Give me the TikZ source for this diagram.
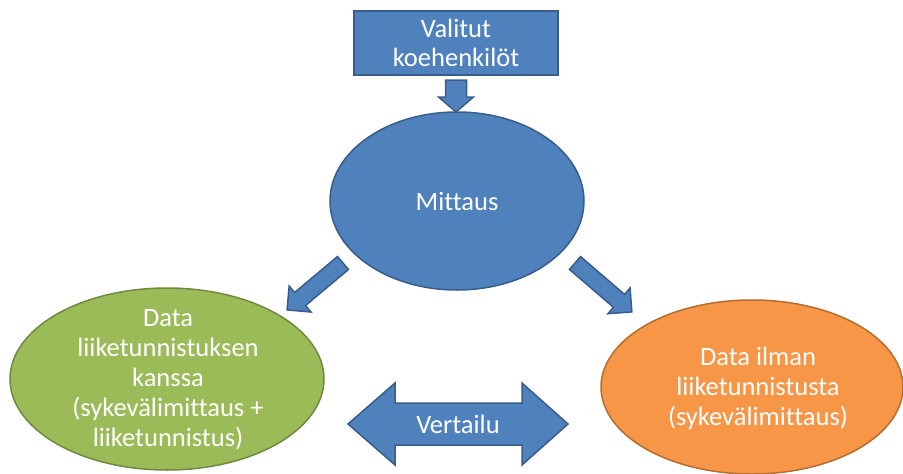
\documentclass[tikz,border=0pt]{standalone}
\usepackage{fontspec}
\setmainfont[Ligatures=NoCommon]{Carlito}
\usetikzlibrary{shapes.geometric}
\definecolor{bfill}{HTML}{4F81BD}
\definecolor{bline}{HTML}{385D8A}
\definecolor{gfill}{HTML}{9BBB59}
\definecolor{gline}{HTML}{71893F}
\definecolor{ofill}{HTML}{F79646}
\definecolor{oline}{HTML}{B66D31}
\newcommand\blockarrow[6]{%
  \draw[blk,shift={(#1)},rotate=#2]
    (0,{-#4/2}) -- ({#3-#6},{-#4/2}) -- ({#3-#6},{-#5/2}) -- (#3,0)
    -- ({#3-#6},{#5/2}) -- ({#3-#6},{#4/2}) -- (0,{#4/2}) -- cycle;}
\begin{document}
\begin{tikzpicture}[x=1pt,y=-1pt,
  lbl/.style={text=white,font=\fontsize{26.5}{30}\selectfont,align=center,inner sep=0pt},
  blk/.style={fill=bfill,draw=bline,line width=1.5pt,line join=miter},
  oval/.style={ellipse,inner sep=0pt,outer sep=0pt,line width=1.5pt}]
\useasboundingbox (0,0) rectangle (903,474);
% top box
\node[blk,rectangle,minimum width=204pt,minimum height=64pt,lbl] (sel) at (456,43) {Valitut\\[-1pt]koehenkilöt};
% ellipses
\node[oval,fill=bfill,draw=bline,minimum width=254pt,minimum height=178pt] (mit) at (457,201) {};
\node[lbl] (mitt) at (mit.center) {Mittaus};
\node[oval,fill=gfill,draw=gline,minimum width=314pt,minimum height=182pt] (with) at (167,379) {};
\node[lbl] (witht) at (168,380) {Data\\liiketunnistuksen\\kanssa\\(sykevälimittaus +\\liiketunnistus)};
\node[oval,fill=ofill,draw=oline,minimum width=302pt,minimum height=174pt] (wout) at (752,387) {};
\node[lbl] (woutt) at (758,388) {Data ilman\\liiketunnistusta\\(sykevälimittaus)};
% arrows
\coordinate (a1) at (456,80);
\blockarrow{a1}{-90}{32}{21}{35}{15}
\coordinate (a2) at (343,263);
\blockarrow{a2}{-140}{73}{17}{34}{17}
\coordinate (a3) at (575,263);
\blockarrow{a3}{-40.7}{75}{17}{34}{17}
% double arrow
\draw[blk] (348,424) -- (395,383) -- (395,403) -- (522,403) -- (522,383) -- (568,424)
  -- (522,465) -- (522,445) -- (395,445) -- (395,465) -- cycle;
\node[lbl] (cmp) at (458,424) {Vertailu};
\end{tikzpicture}
\end{document}
